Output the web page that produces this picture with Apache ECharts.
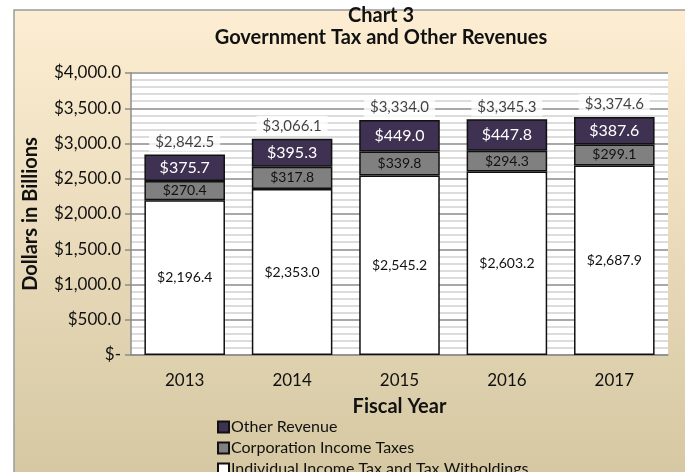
<!DOCTYPE html>
<html>
<head>
<meta charset="utf-8">
<script src="https://cdn.jsdelivr.net/npm/echarts@6/dist/echarts.min.js"></script>
<style>
  html, body { margin: 0; padding: 0; background: #fff; }
  #chart { width: 685px; height: 472px; }
</style>
</head>
<body>
<div id="chart"></div>
<script>
// fiscal years and revenue values in billions
var years = ['2013', '2014', '2015', '2016', '2017'];
var individualTax = [2196.4, 2353.0, 2545.2, 2603.2, 2687.9];
var corporationTax = [270.4, 317.8, 339.8, 294.3, 299.1];
var otherRevenue = [375.7, 395.3, 449.0, 447.8, 387.6];
var totals = [2842.5, 3066.1, 3334.0, 3345.3, 3374.6];

var FONT = 'Lato, "Open Sans", sans-serif';

function money (v) {
  if (v === 0) {
    return '$-';
  }
  var parts = v.toFixed(1).split('.');
  return '$' + parts[0].replace(/\B(?=(\d{3})+(?!\d))/g, ',') + '.' + parts[1];
}

var chart = echarts.init(document.getElementById('chart'));

chart.setOption({
  backgroundColor: '#fff',
  animation: false,
  textStyle: { fontFamily: FONT },
  graphic: [
    {
      type: 'rect',
      z: -10,
      shape: { x: 14, y: 10, width: 680, height: 470 },
      style: {
        fill: new echarts.graphic.LinearGradient(0, 0, 0, 1, [
          { offset: 0, color: '#fdeed3' },
          { offset: 1, color: '#d4c7a1' }
        ]),
        stroke: '#9a9a9a',
        lineWidth: 1.5
      }
    }
  ],
  title: {
    text: 'Chart 3\nGovernment Tax and Other Revenues',
    left: 376,
    top: 0,
    textAlign: 'center',
    textStyle: {
      fontFamily: FONT,
      fontSize: 20,
      fontWeight: 'bold',
      color: '#111',
      lineHeight: 22
    }
  },
  legend: {
    orient: 'vertical',
    left: 212,
    top: 414,
    height: 120,
    icon: 'rect',
    itemWidth: 11,
    itemHeight: 11,
    itemGap: 5,
    data: ['Other Revenue', 'Corporation Income Taxes', 'Individual Income Tax and Tax Witholdings'],
    textStyle: { fontFamily: FONT, fontSize: 16, color: '#111', padding: [0, 0, 0, -3] }
  },
  grid: {
    left: 131,
    right: 17,
    top: 73,
    bottom: 117,
    show: true,
    backgroundColor: '#fff',
    borderWidth: 0
  },
  xAxis: {
    type: 'category',
    data: years,
    name: 'Fiscal Year',
    nameLocation: 'middle',
    nameGap: 42,
    nameTextStyle: { fontFamily: FONT, fontSize: 20, fontWeight: 'bold', color: '#111' },
    axisLine: { lineStyle: { color: '#8c8c8c', width: 1.5 } },
    axisTick: { show: false },
    axisLabel: { fontFamily: FONT, fontSize: 17, color: '#111', margin: 17 }
  },
  yAxis: {
    type: 'value',
    min: 0,
    max: 4000,
    interval: 500,
    name: 'Dollars in Billions',
    nameLocation: 'middle',
    nameGap: 90,
    nameRotate: 90,
    nameTextStyle: { fontFamily: FONT, fontSize: 20, fontWeight: 'bold', color: '#111' },
    axisLine: { show: true, lineStyle: { color: '#8c8c8c', width: 1.5 } },
    axisTick: { show: true, length: 6, lineStyle: { color: '#8c8c8c', width: 1.5 } },
    axisLabel: {
      fontFamily: FONT,
      fontSize: 17,
      color: '#111',
      margin: 10,
      formatter: money
    },
    splitLine: { lineStyle: { color: '#a8a8a8', width: 2 } },
    minorTick: { show: false, splitNumber: 5 },
    minorSplitLine: { show: true, lineStyle: { color: '#dcdcdc', width: 2 } }
  },
  series: [
    {
      name: 'Individual Income Tax and Tax Witholdings',
      type: 'bar',
      stack: 'rev',
      barWidth: '75%',
      data: individualTax,
      itemStyle: { color: '#ffffff', borderColor: '#111', borderWidth: 1.5 },
      label: {
        show: true,
        position: 'inside',
        fontFamily: FONT,
        fontSize: 14,
        color: '#111',
        formatter: function (p) { return money(p.value); }
      }
    },
    {
      name: 'Corporation Income Taxes',
      type: 'bar',
      stack: 'rev',
      data: corporationTax,
      itemStyle: { color: '#808080', borderColor: '#111', borderWidth: 1.5 },
      label: {
        show: true,
        position: 'inside',
        fontFamily: FONT,
        fontSize: 14,
        color: '#111',
        formatter: function (p) { return money(p.value); }
      }
    },
    {
      name: 'Other Revenue',
      type: 'bar',
      stack: 'rev',
      data: otherRevenue,
      itemStyle: { color: '#3f3151', borderColor: '#111', borderWidth: 1.5 },
      label: {
        show: true,
        position: 'inside',
        fontFamily: FONT,
        fontSize: 16,
        color: '#fff',
        formatter: function (p) { return money(p.value); }
      }
    },
    {
      name: 'Total',
      type: 'scatter',
      symbolSize: 0,
      data: totals,
      z: 5,
      label: {
        show: true,
        position: 'top',
        distance: 3,
        fontFamily: FONT,
        fontSize: 15,
        color: '#111',
        backgroundColor: '#fff',
        padding: [3, 6, 2, 6],
        formatter: function (p) { return money(p.value); }
      }
    }
  ]
});
</script>
</body>
</html>
